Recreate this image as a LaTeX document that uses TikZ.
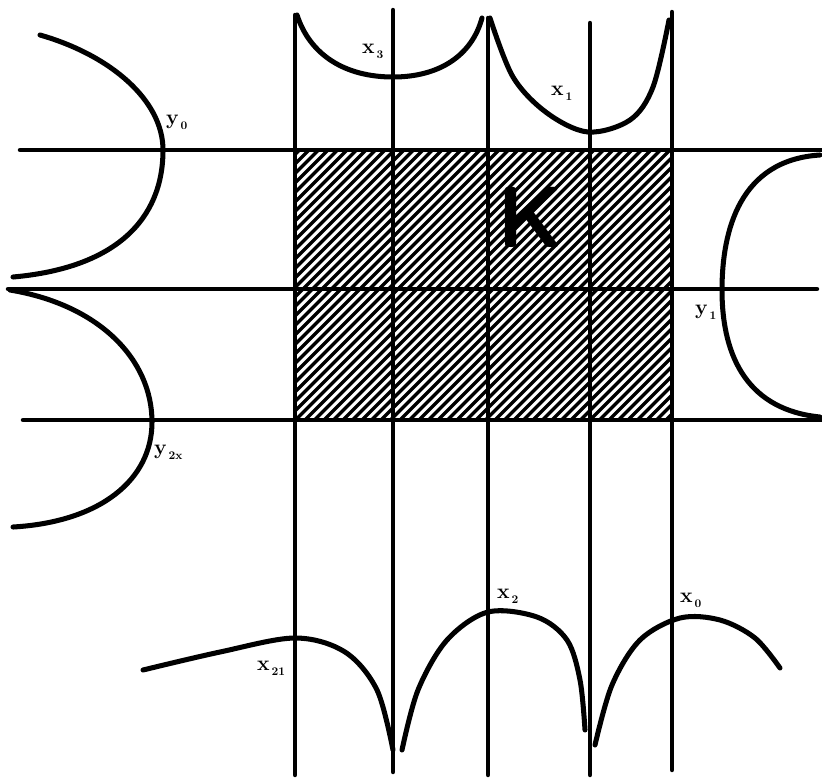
\documentclass[tikz,border=0pt]{standalone}
\usetikzlibrary{positioning}

\begin{document}
\begin{tikzpicture}[
    % picture coordinates: one unit = one pixel of the 822 x 778 frame, y downwards
    x=0.03cm, y=-0.03cm,
    line cap=round, line join=round,
]

% ---------------------------------------------------------------- styles
\tikzset{
    grid/.style={black, line width=3.8pt},
    curve/.style={black, line width=4.3pt},
    hatch/.style={black, line width=2.9pt, line cap=butt},
    lab/.style={font=\fontsize{18}{18}\selectfont\bfseries, inner sep=0pt,
                anchor=base west},
}
\newcommand{\sublab}[2]{#1\kern1.5pt\raisebox{-5pt}{\fontsize{10}{10}\selectfont\bfseries #2}}

\useasboundingbox (0,0) rectangle (822,778);

% ---------------------------------------------------------------- the set K
\begin{scope}
    \clip (295,150) rectangle (672,420);
    \foreach \s in {16,25.5,...,690} {
        \draw[hatch] (\s,424) -- ++(278,-278);
    }
\end{scope}
\node[font=\fontsize{74}{74}\selectfont\bfseries\sffamily, inner sep=0pt]
    (setK) at (531,217) {K};

% ---------------------------------------------------------------- lines
\draw[grid] (20,150) -- (822,150);
\draw[grid] (8,289) -- (817,289);
\draw[grid] (23,420) -- (822,420);

\draw[grid] (295,15) -- (295,775);
\draw[grid] (393,10) -- (393,772);
\draw[grid] (488,18) -- (488,775);
\draw[grid] (590,23) -- (590,775);
\draw[grid] (672,12) -- (672,770);

% ---------------------------------------------------------------- top curves
\draw[curve] (297,15) .. controls (310,55) and (345,77) .. (393,77)
                      .. controls (440,77) and (472,55) .. (482,18);
\draw[curve] plot[smooth, tension=0.55] coordinates {
    (490,18) (513,77) (547,113) (588,132) (630,120) (653,87) (669,20)};

% ---------------------------------------------------------------- left curves
\draw[curve] (40,35) .. controls (110,55) and (163,100) .. (163,150)
                     .. controls (163,220) and (115,268) .. (13,277);
\draw[curve] (10,290) .. controls (100,305) and (152,360) .. (152,422)
                      .. controls (152,480) and (100,522) .. (13,527);

% ---------------------------------------------------------------- right curve
\draw[curve] (820,155) .. controls (740,160) and (722,230) .. (722,290)
                       .. controls (722,360) and (750,410) .. (820,417);

% ---------------------------------------------------------------- bottom curves
\draw[curve] plot[smooth, tension=0.55] coordinates {
    (143,670) (220,652) (295,638) (345,652) (377,690) (393,750)};
\draw[curve] plot[smooth, tension=0.55] coordinates {
    (402,750) (418,690) (447,640) (488,612) (537,617) (567,640) (580,680) (585,730)};
\draw[curve] plot[smooth, tension=0.55] coordinates {
    (595,745) (612,685) (640,640) (680,618) (720,620) (755,638) (780,668)};

% ---------------------------------------------------------------- labels
\node[lab] (labxthree) at (362,53)  {\sublab{x}{3}};
\node[lab] (labxone)   at (551,95)  {\sublab{x}{1}};
\node[lab] (labyzero)  at (166,124) {\sublab{y}{0}};
\node[lab] (labyone)   at (695,314) {\sublab{y}{1}};
\node[lab] (labytwox)  at (154,454) {\sublab{y}{2x}};
\node[lab] (labxtwo)   at (497,598) {\sublab{x}{2}};
\node[lab] (labxzero)  at (680,602) {\sublab{x}{0}};
\node[lab] (labxtwoone) at (257,670) {\sublab{x}{21}};

\end{tikzpicture}
\end{document}
